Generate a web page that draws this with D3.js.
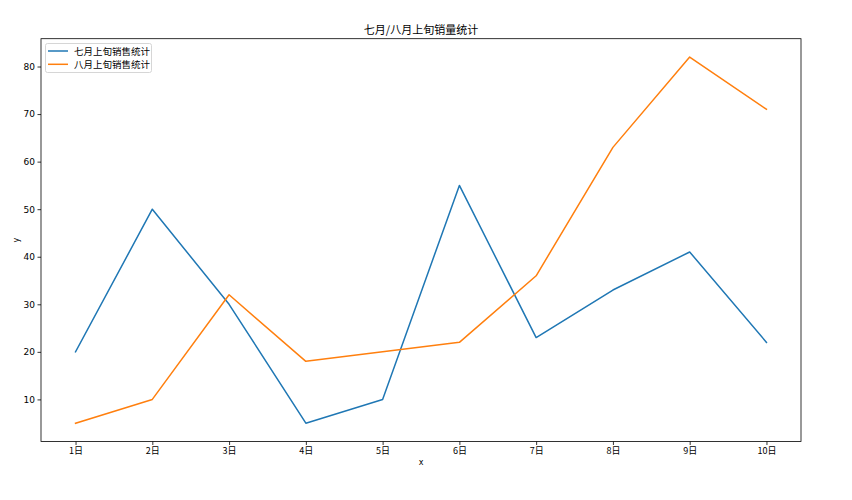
<!DOCTYPE html>
<html><head><meta charset="utf-8">
<script src="https://cdn.jsdelivr.net/npm/d3@7"></script>
<style>
html,body{margin:0;padding:0;background:#fff;}
svg{display:block;font-family:"Noto Sans CJK SC","DejaVu Sans",sans-serif;}
</style></head>
<body><svg id="c" width="852" height="500"></svg>
<script>
const categories = ["1日","2日","3日","4日","5日","6日","7日","8日","9日","10日"];
const julySales = [20, 50, 30, 5, 10, 55, 23, 33, 41, 22];
const augustSales = [5, 10, 32, 18, 20, 22, 36, 63, 82, 71];
const seriesNames = ["七月上旬销售统计", "八月上旬销售统计"];
const seriesColors = ["#1f77b4", "#ff7f0e"];
const yTicks = [10, 20, 30, 40, 50, 60, 70, 80];
const titleText = "七月/八月上旬销量统计";

const svg = d3.select("#c");
const L = 41, R = 801, T = 38.7, B = 441.5;

const x = d3.scaleLinear().domain([0.55, 10.45]).range([L, R]);
const y = d3.scaleLinear().domain([1.15, 85.85]).range([B, T]);

const fontTick = 9;
// x axis
const xAxis = d3.axisBottom(x).tickValues(d3.range(1, 11)).tickFormat(i => categories[i-1]).tickSize(3.5).tickPadding(2.5);
const gx = svg.append("g").attr("transform", `translate(0,${B})`).call(xAxis);
gx.select(".domain").remove();
gx.selectAll("text").attr("font-size", fontTick).attr("fill", "#000").attr("font-family", '"Noto Sans CJK SC","DejaVu Sans",sans-serif');
gx.selectAll("line").attr("stroke", "#000").attr("stroke-width", 0.8);

const yAxis = d3.axisLeft(y).tickValues(yTicks).tickSize(3.5).tickPadding(2.5);
const gy = svg.append("g").attr("transform", `translate(${L},0)`).call(yAxis);
gy.select(".domain").remove();
gy.selectAll("text").attr("font-size", fontTick).attr("fill", "#000").attr("font-family", '"DejaVu Sans",sans-serif');
gy.selectAll("line").attr("stroke", "#000").attr("stroke-width", 0.8);

// lines
const line = d3.line().x((d, i) => x(i + 1)).y(d => y(d));
[julySales, augustSales].forEach((s, k) => {
  svg.append("path").datum(s).attr("d", line).attr("fill", "none")
    .attr("stroke", seriesColors[k]).attr("stroke-width", 1.5).attr("stroke-linejoin", "round").attr("stroke-linecap", "square");
});

// frame
svg.append("rect").attr("x", L).attr("y", T).attr("width", R - L).attr("height", B - T)
  .attr("fill", "none").attr("stroke", "#000").attr("stroke-width", 0.8);

// title and labels
svg.append("text").attr("x", (L + R) / 2).attr("y", 34).attr("text-anchor", "middle")
  .attr("font-size", 11).attr("fill", "#000").text(titleText);
svg.append("text").attr("x", (L + R) / 2).attr("y", 465).attr("text-anchor", "middle")
  .attr("font-size", 8).attr("fill", "#000").attr("font-family", '"DejaVu Sans",sans-serif').text("x");
svg.append("text").attr("transform", `translate(19,${(T + B) / 2}) rotate(-90)`).attr("text-anchor", "middle")
  .attr("font-size", 8).attr("fill", "#000").attr("font-family", '"DejaVu Sans",sans-serif').text("y");

// legend
const lg = svg.append("g");
lg.append("rect").attr("x", 45.5).attr("y", 43.5).attr("width", 106).attr("height", 29).attr("rx", 2)
  .attr("fill", "#fff").attr("fill-opacity", 0.8).attr("stroke", "#ccc").attr("stroke-width", 0.8);
seriesNames.forEach((n, k) => {
  const yy = 51 + k * 13.3;
  lg.append("line").attr("x1", 48).attr("x2", 68).attr("y1", yy).attr("y2", yy)
    .attr("stroke", seriesColors[k]).attr("stroke-width", 1.5);
  lg.append("text").attr("x", 74).attr("y", yy + 3.5).attr("font-size", 9.5).attr("fill", "#000").text(n);
});
</script></body></html>
